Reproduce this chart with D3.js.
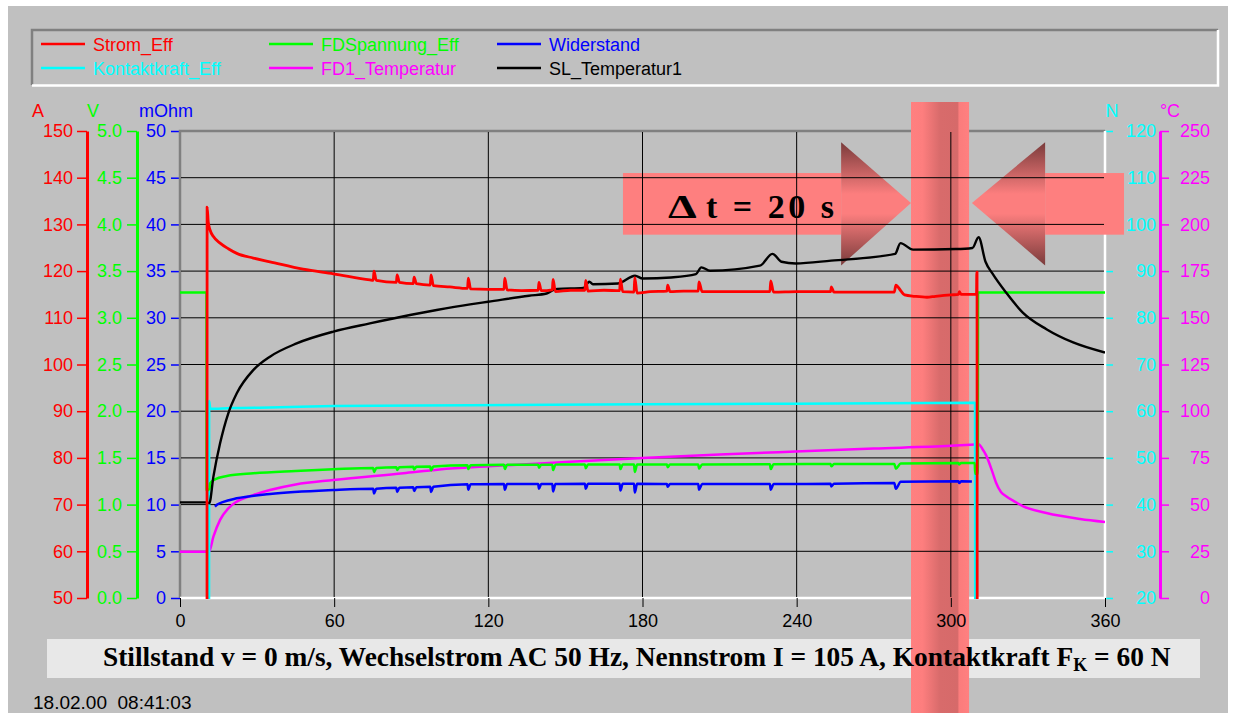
<!DOCTYPE html>
<html>
<head>
<meta charset="utf-8">
<script src="https://cdn.jsdelivr.net/npm/d3@7"></script>
<style>
  body { margin: 0; background: #fff; }
  svg { display: block; font-family: 'Liberation Sans', Arial, sans-serif; }
</style>
</head>
<body>
<div id="chart"></div>
<script>
// measured series, [time s, value]
const stromEff = [
  [0, 0], [10.5, 0], [10.55, 133.7], [11.0, 130.5], [11.7, 128.8], [13.0, 127.4], [15.6, 126.0],
  [18.8, 124.8], [22.1, 123.8], [28.5, 122.8], [35.0, 122.0], [47.9, 120.4], [59.7, 119.4], [73.9, 118.1],
  [75.2, 118.0], [75.5, 120.0], [76.4, 118.0], [84.2, 117.6], [84.5, 119.2], [85.4, 117.6],
  [90.8, 117.3], [91.1, 118.7], [92.0, 117.3], [97.4, 117.0], [97.7, 119.2], [98.6, 116.9],
  [105, 116.6], [111.9, 116.3], [112.2, 118.5], [113.1, 116.2], [120, 116.1],
  [126.1, 116.1], [126.4, 118.5], [127.3, 116.0], [133, 115.8],
  [139.4, 115.9], [139.7, 117.6], [140.6, 115.8], [144.9, 116.0], [145.2, 118.2], [146.1, 115.6],
  [152, 115.9], [157.6, 115.9], [157.9, 118.0], [158.8, 115.7], [165, 115.9],
  [171.1, 115.8], [171.4, 118.3], [172.3, 115.6], [176.7, 115.5], [177.0, 118.6], [177.9, 115.3],
  [183, 115.6], [189.5, 115.7], [189.8, 117.0], [190.7, 115.6], [196, 115.7],
  [201.7, 115.7], [202.0, 117.7], [203.2, 115.6], [215, 115.6],
  [229.6, 115.6], [229.9, 117.9], [231.0, 115.5], [240, 115.6],
  [253.2, 115.6], [253.5, 116.6], [254.5, 115.5], [265, 115.5],
  [278.0, 115.5], [278.6, 117.0], [280.5, 115.8], [282, 114.9], [286, 114.6], [290.7, 114.4],
  [294, 114.6], [300, 114.9], [303.0, 115.0], [303.3, 115.6], [304.0, 115.0],
  [310.0, 115.0], [310.1, 119.8], [310.2, 119.8], [310.3, 0], [360, 0]
]
const fdSpannungEff = [
  [0, 3.27], [10.3, 3.27], [10.35, 1.15], [11.5, 1.17], [11.7, 1.228], [13.6, 1.27], [18.2, 1.306],
  [28.5, 1.335], [45, 1.36], [59.7, 1.378],
  [75.2, 1.392], [75.5, 1.35], [76.4, 1.392], [84.2, 1.40], [84.5, 1.37], [85.4, 1.40],
  [90.8, 1.404], [91.1, 1.375], [92, 1.404], [97.4, 1.408], [97.7, 1.365], [98.6, 1.408],
  [111.9, 1.422], [112.2, 1.38], [113.1, 1.422], [126.1, 1.426], [126.4, 1.38], [127.3, 1.426],
  [139.4, 1.428], [139.7, 1.395], [140.6, 1.428], [144.9, 1.428], [145.2, 1.37], [146.1, 1.428],
  [157.6, 1.43], [157.9, 1.39], [158.8, 1.43], [171.1, 1.43], [171.4, 1.38], [172.3, 1.43],
  [176.7, 1.43], [177.0, 1.35], [177.9, 1.43], [189.5, 1.43], [189.8, 1.40], [190.7, 1.43],
  [201.7, 1.43], [202.0, 1.385], [203.2, 1.43], [229.6, 1.432], [229.9, 1.38], [231.0, 1.432],
  [253.2, 1.434], [253.5, 1.41], [254.5, 1.434], [278.0, 1.434], [278.6, 1.385], [280.5, 1.44],
  [303.0, 1.445], [303.3, 1.43], [304.0, 1.445], [309.3, 1.445], [309.5, 1.33], [310.5, 1.33],
  [310.6, 3.27], [360, 3.27]
]
const widerstand = [
  [13.6, 9.78], [14.5, 10.0], [16.9, 10.3], [22.1, 10.67], [35, 11.13], [59.7, 11.56],
  [75.2, 11.7], [75.5, 11.2], [76.4, 11.7], [84.2, 11.8], [84.5, 11.35], [85.4, 11.8],
  [90.8, 11.85], [91.1, 11.45], [92, 11.85], [97.4, 11.9], [97.7, 11.35], [98.6, 11.9],
  [111.9, 12.18], [112.2, 11.6], [113.1, 12.18], [126.1, 12.2], [126.4, 11.6], [127.3, 12.2],
  [139.4, 12.2], [139.7, 11.7], [140.6, 12.2], [144.9, 12.2], [145.2, 11.4], [146.1, 12.2],
  [157.6, 12.22], [157.9, 11.7], [158.8, 12.22], [171.1, 12.22], [171.4, 11.5], [172.3, 12.22],
  [176.7, 12.22], [177.0, 11.3], [177.9, 12.22], [189.5, 12.2], [189.8, 11.9], [190.7, 12.2],
  [201.7, 12.2], [202.0, 11.6], [203.2, 12.2], [229.6, 12.2], [229.9, 11.6], [231.0, 12.2],
  [253.2, 12.22], [253.5, 11.95], [254.5, 12.22], [278.0, 12.3], [278.6, 11.7], [280.5, 12.45],
  [303.0, 12.5], [303.3, 12.3], [304.0, 12.5], [308.2, 12.48]
]
const kontaktkraftEff = [
  [0, 19], [11.3, 19], [11.35, 62.2], [11.8, 60.5], [20, 60.7], [35, 60.8], [59.7, 61.1],
  [112.9, 61.3], [180, 61.5], [240, 61.6], [309.4, 61.8], [309.5, 19], [360, 19]
]
const fd1Temperatur = [
  [0, 24.8], [11.3, 24.8], [13, 32.8], [15.6, 41.8], [18.8, 48], [22.1, 51.6], [28.5, 55.1],
  [35, 57.8], [45, 60.8], [59.7, 63.2], [86.9, 66.8], [101, 68.8], [120, 70.5], [150, 72.8],
  [180, 75], [210, 76.8], [239.6, 78.4], [270, 80], [300, 81.5], [309.5, 82.2], [310.8, 82.3],
  [312.3, 79.8], [313.7, 76.5], [316.3, 67], [317.6, 61.7], [319.5, 56.8], [321.5, 54.5],
  [325, 51.5], [328, 49.2], [337.2, 45.5], [350.3, 42.3], [360, 40.7]
]
const slTemperatur1 = [
  [0, 51.2], [10.5, 51.2], [11.4, 50.7], [13, 65], [15.6, 82.8], [18.8, 98.9], [22.1, 109.6],
  [28.5, 122], [35, 129.2], [45.4, 136.3], [59.7, 142.6], [73.9, 147], [89.5, 151.5], [99.9, 154.2],
  [112.9, 157.2], [119.9, 158.6], [135.8, 161.8], [142.7, 163], [145.2, 164.8], [146.9, 165.5],
  [157, 166], [159.3, 169.3], [160.7, 168], [170.5, 168.4], [177.1, 172.5], [180.1, 171],
  [191.1, 171.6], [200.8, 173.4], [202.9, 177], [206.3, 175.2], [225.7, 177.9], [230.6, 184.2],
  [234.1, 180], [239.6, 179.1], [253.4, 180.6], [278.3, 184.2], [280.4, 190], [285.3, 186.5],
  [301.9, 186.8], [308.4, 187.4], [310.8, 193.1], [313.5, 180], [316.3, 173.5], [321.5, 163.5],
  [328, 152.8], [337.2, 143.9], [347.6, 136.8], [360, 131.4]
]

const timeTicks = [0, 60, 120, 180, 240, 300, 360]
const ampTicks = [50, 60, 70, 80, 90, 100, 110, 120, 130, 140, 150]
const voltTicks = [0, 0.5, 1, 1.5, 2, 2.5, 3, 3.5, 4, 4.5, 5]
const ohmTicks = [0, 5, 10, 15, 20, 25, 30, 35, 40, 45, 50]
const forceTicks = [20, 30, 40, 50, 60, 70, 80, 90, 100, 110, 120]
const tempTicks = [0, 25, 50, 75, 100, 125, 150, 175, 200, 225, 250]

const legendNames = ['Strom_Eff', 'FDSpannung_Eff', 'Widerstand', 'Kontaktkraft_Eff', 'FD1_Temperatur', 'SL_Temperatur1']
const legendColors = ['#ff0000', '#00ff00', '#0000ff', '#00ffff', '#ff00ff', '#000000']

// marked window (s) for the Δt annotation
const windowT = [284.5, 307.1]

const W = 1235
const H = 713
const plot = { left: 180, right: 1105, top: 131, bottom: 598 }
const BG = '#c0c0c0'
const SERIF = "'Liberation Serif', 'Times New Roman', serif"

const svg = d3.select('#chart').append('svg').attr('width', W).attr('height', H)

const x = d3.scaleLinear().domain([0, 360]).range([plot.left, plot.right])
const yA = d3.scaleLinear().domain([50, 150]).range([plot.bottom, plot.top])
const yV = d3.scaleLinear().domain([0, 5]).range([plot.bottom, plot.top])
const yOhm = d3.scaleLinear().domain([0, 50]).range([plot.bottom, plot.top])
const yN = d3.scaleLinear().domain([20, 120]).range([plot.bottom, plot.top])
const yC = d3.scaleLinear().domain([0, 250]).range([plot.bottom, plot.top])

const defs = svg.append('defs')
defs.append('clipPath').attr('id', 'plotclip')
  .append('rect')
  .attr('x', plot.left).attr('y', plot.top - 1)
  .attr('width', plot.right - plot.left).attr('height', plot.bottom - plot.top + 2)

const bandGrad = defs.append('linearGradient').attr('id', 'bandgrad')
  .attr('gradientUnits', 'userSpaceOnUse')
  .attr('x1', x(windowT[0])).attr('x2', x(windowT[1])).attr('y1', 0).attr('y2', 0)
bandGrad.selectAll('stop')
  .data([[0, '#ff8080'], [0.2, '#fd7e7e'], [0.5, '#d86b6b'], [0.8, '#d66a6a'], [0.83, '#fb7c7c'], [1, '#ff8080']])
  .enter().append('stop')
  .attr('offset', d => d[0]).attr('stop-color', d => d[1])

const headTop = yOhm(48.8)
const headBot = yOhm(35.6)
const headGrad = defs.append('linearGradient').attr('id', 'headgrad')
  .attr('gradientUnits', 'userSpaceOnUse')
  .attr('x1', 0).attr('x2', 0).attr('y1', headTop).attr('y2', headBot)
headGrad.selectAll('stop')
  .data([[0, '#7a3b3b'], [0.28, '#d06868'], [0.42, '#fc7e7e'], [0.58, '#fc7e7e'], [0.72, '#d06868'], [1, '#7a3b3b']])
  .enter().append('stop')
  .attr('offset', d => d[0]).attr('stop-color', d => d[1])

// panel
svg.append('rect').attr('width', W).attr('height', H).attr('fill', '#fff')
svg.append('rect').attr('x', 8).attr('y', 6).attr('width', 1220).attr('height', H - 6).attr('fill', BG)

// legend box, sunken
const lg = svg.append('g')
lg.append('path').attr('d', 'M32,85 V30 H1218').attr('fill', 'none').attr('stroke', '#808080').attr('stroke-width', 2.5)
lg.append('path').attr('d', 'M32,85.5 H1218 V30').attr('fill', 'none').attr('stroke', '#ffffff').attr('stroke-width', 2.5)
const legendCols = [41, 269, 497]
legendNames.forEach((name, i) => {
  const cx = legendCols[i % 3]
  const cy = i < 3 ? 44 : 68
  lg.append('line').attr('x1', cx).attr('x2', cx + 44).attr('y1', cy).attr('y2', cy)
    .attr('stroke', legendColors[i]).attr('stroke-width', 2.5)
  lg.append('text').attr('x', cx + 52).attr('y', cy + 6.5)
    .attr('fill', legendColors[i]).attr('font-size', 18).text(name)
})

// value axes
function styleAxis(g, color, lineWidth) {
  g.attr('font-family', null).attr('font-size', null)
  g.selectAll('text').attr('fill', color).attr('font-size', 18)
  g.selectAll('.tick line').attr('stroke', color).attr('stroke-width', 1.5)
  g.select('.domain').attr('stroke', color).attr('stroke-width', lineWidth)
}

svg.append('g').attr('transform', 'translate(87,0)')
  .call(d3.axisLeft(yA).tickValues(ampTicks).tickSize(10).tickSizeOuter(0).tickPadding(4))
  .call(g => styleAxis(g, '#ff0000', 3))

svg.append('g').attr('transform', 'translate(137,0)')
  .call(d3.axisLeft(yV).tickValues(voltTicks).tickFormat(d3.format('.1f')).tickSize(10).tickSizeOuter(0).tickPadding(5))
  .call(g => styleAxis(g, '#00ff00', 3))

svg.append('g').attr('transform', 'translate(180,0)')
  .call(d3.axisLeft(yOhm).tickValues(ohmTicks).tickSize(9).tickSizeOuter(0).tickPadding(5))
  .call(g => styleAxis(g, '#0000ff', 0))
  .call(g => g.select('.domain').remove())

svg.append('g').attr('transform', 'translate(1105,0)')
  .call(d3.axisRight(yN).tickValues(forceTicks).tickSize(8).tickSizeOuter(0))
  .call(g => styleAxis(g, '#00ffff', 0))
  .call(g => g.select('.domain').remove())
  .call(g => g.selectAll('text').attr('text-anchor', 'end').attr('x', 51))

svg.append('g').attr('transform', 'translate(1160,0)')
  .call(d3.axisRight(yC).tickValues(tempTicks).tickSize(9).tickSizeOuter(0))
  .call(g => styleAxis(g, '#ff00ff', 3))
  .call(g => g.selectAll('text').attr('text-anchor', 'end').attr('x', 50))

const units = [['A', 38, '#ff0000'], ['V', 93, '#00ff00'], ['mOhm', 166, '#0000ff'], ['N', 1112, '#00ffff'], ['°C', 1170, '#ff00ff']]
units.forEach(u => {
  svg.append('text').attr('x', u[1]).attr('y', 117).attr('text-anchor', 'middle')
    .attr('font-size', 18).attr('fill', u[2]).text(u[0])
})

// plot frame (sunken)
svg.append('path').attr('d', `M${plot.left},${plot.bottom} V${plot.top} H${plot.right}`)
  .attr('fill', 'none').attr('stroke', '#808080').attr('stroke-width', 2.5)
svg.append('path').attr('d', `M${plot.left},${plot.bottom} H${plot.right} V${plot.top}`)
  .attr('fill', 'none').attr('stroke', '#ffffff').attr('stroke-width', 2.5)

// caption box
svg.append('rect').attr('x', 47).attr('y', 639).attr('width', 1153).attr('height', 39).attr('fill', '#e8e8e8')

// highlighted window
svg.append('rect')
  .attr('x', x(windowT[0])).attr('y', 102)
  .attr('width', x(windowT[1]) - x(windowT[0])).attr('height', H - 102)
  .attr('fill', 'url(#bandgrad)')

// arrows pointing at the window
const shaftTop = yOhm(45.5)
const shaftBot = yOhm(38.9)
const tipY = yOhm(42.3)
const arrows = [
  { tail: 172.4, back: 257.3, tip: windowT[0] },
  { tail: 367.4, back: 336.7, tip: 308.2 }
]
arrows.forEach(a => {
  svg.append('path')
    .attr('d', `M${x(a.back)},${headTop} L${x(a.tip)},${tipY} L${x(a.back)},${headBot} Z`)
    .attr('fill', 'url(#headgrad)')
  svg.append('rect')
    .attr('x', Math.min(x(a.tail), x(a.back))).attr('y', shaftTop)
    .attr('width', Math.abs(x(a.back) - x(a.tail))).attr('height', shaftBot - shaftTop)
    .attr('fill', '#fe7f7f')
})

// grid
const grid = svg.append('g').attr('stroke', '#000').attr('stroke-width', 1)
grid.selectAll('.hg').data(ohmTicks.slice(1, -1)).enter().append('line')
  .attr('x1', plot.left + 1).attr('x2', plot.right - 1)
  .attr('y1', d => yOhm(d)).attr('y2', d => yOhm(d))
grid.selectAll('.vg').data(timeTicks.slice(1, -1)).enter().append('line')
  .attr('x1', d => x(d)).attr('x2', d => x(d))
  .attr('y1', plot.top + 1).attr('y2', plot.bottom - 1)

// time axis
svg.append('g').attr('transform', `translate(0,${plot.bottom})`)
  .call(d3.axisBottom(x).tickValues(timeTicks).tickSize(9).tickSizeOuter(0).tickPadding(7))
  .call(g => g.select('.domain').remove())
  .call(g => styleAxis(g, '#000000', 0))
  .call(g => g.selectAll('.tick line').attr('stroke-width', 1))

// series
const series = [
  [fd1Temperatur, yC, '#ff00ff', 2.5],
  [kontaktkraftEff, yN, '#00ffff', 2.5],
  [widerstand, yOhm, '#0000ff', 2.5],
  [fdSpannungEff, yV, '#00ff00', 2.5],
  [slTemperatur1, yC, '#000000', 2.4],
  [stromEff, yA, '#ff0000', 2.8]
]
const lines = svg.append('g').attr('clip-path', 'url(#plotclip)')
series.forEach(s => {
  const yScale = s[1]
  lines.append('path')
    .datum(s[0])
    .attr('fill', 'none')
    .attr('stroke', s[2])
    .attr('stroke-width', s[3])
    .attr('stroke-linejoin', 'round')
    .attr('d', d3.line().curve(d3.curveMonotoneX).x(d => x(d[0])).y(d => yScale(d[1])))
})

// annotation text
svg.append('text')
  .attr('x', 668).attr('y', 218)
  .attr('font-family', SERIF).attr('font-weight', 'bold').attr('font-size', 34)
  .attr('transform', 'translate(668,0) scale(1.35,1) translate(-668,0)')
  .attr('fill', '#000')
  .text('Δ')
svg.append('text')
  .attr('x', 706).attr('y', 218)
  .attr('font-family', SERIF).attr('font-weight', 'bold').attr('font-size', 34)
  .attr('textLength', 128).attr('lengthAdjust', 'spacing')
  .attr('fill', '#000')
  .text('t = 20 s')

const cap = svg.append('text')
  .attr('x', 103).attr('y', 666)
  .attr('font-family', SERIF).attr('font-weight', 'bold').attr('font-size', 27.4)
  .attr('fill', '#000')
cap.append('tspan').text('Stillstand v = 0 m/s, Wechselstrom AC 50 Hz, Nennstrom I = 105 A, Kontaktkraft F')
cap.append('tspan').attr('font-size', 18).attr('dy', 5).text('K')
cap.append('tspan').attr('dy', -5).text(' = 60 N')

svg.append('text')
  .attr('x', 33).attr('y', 709)
  .attr('font-size', 19).attr('fill', '#000')
  .style('white-space', 'pre')
  .text('18.02.00  08:41:03')
</script>
</body>
</html>
